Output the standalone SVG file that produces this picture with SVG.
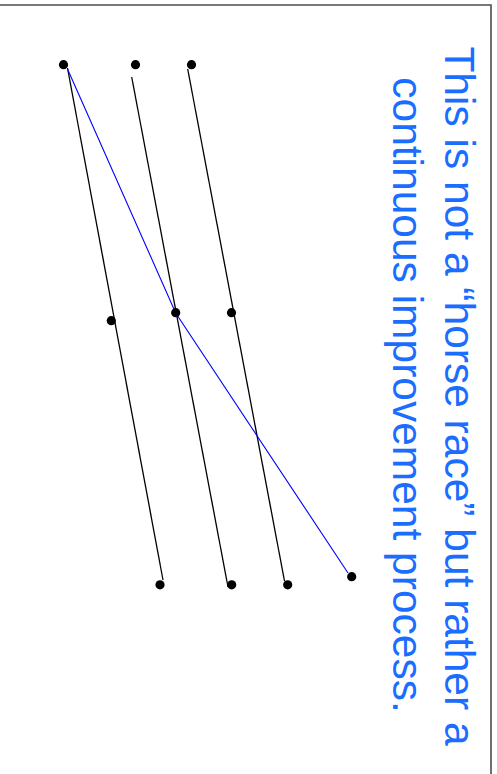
<svg xmlns="http://www.w3.org/2000/svg" width="497" height="774" viewBox="0 0 497 774">
<style>
.dot{fill:#000}
.ln{fill:none;stroke:#000;stroke-width:1.3}
.blue{fill:none;stroke:#0000ff;stroke-width:1.1}
.lbl{font-family:"Liberation Sans",Arial,Helvetica,sans-serif;font-size:42.5px;fill:#1a6dff;text-anchor:middle}
</style>
<rect width="497" height="774" fill="#fff"/>
<path d="M0 5 H491 V774" fill="none" stroke="#4d4d4d" stroke-width="1.6"/>
<g id="connectors">
<line class="ln" x1="67.5" y1="68" x2="163" y2="580"/>
<line class="ln" x1="131.7" y1="77" x2="228" y2="587"/>
<line class="ln" x1="187.7" y1="69" x2="284.5" y2="581"/>
<polyline class="blue" points="67.5,69 175.7,313 348,573"/>
</g>
<g id="n1"><circle class="dot" cx="63.5" cy="64.7" r="4.6"/></g>
<g id="n2"><circle class="dot" cx="135.5" cy="64.7" r="4.6"/></g>
<g id="n3"><circle class="dot" cx="191.5" cy="64.7" r="4.6"/></g>
<g id="n4"><circle class="dot" cx="111.3" cy="320.7" r="4.6"/></g>
<g id="n5"><circle class="dot" cx="175.7" cy="312.7" r="4.6"/></g>
<g id="n6"><circle class="dot" cx="231.5" cy="312.7" r="4.6"/></g>
<g id="n7"><circle class="dot" cx="160" cy="584.8" r="4.6"/></g>
<g id="n8"><circle class="dot" cx="231.7" cy="584.8" r="4.6"/></g>
<g id="n9"><circle class="dot" cx="287.7" cy="584.8" r="4.6"/></g>
<g id="n10"><circle class="dot" cx="351.7" cy="576.7" r="4.6"/></g>
<g id="label">
<text class="lbl" transform="translate(445,396) rotate(90)">This is not a “horse race” but rather a</text>
<text class="lbl" transform="translate(393,395) rotate(90)">continuous improvement process.</text>
</g>
</svg>
